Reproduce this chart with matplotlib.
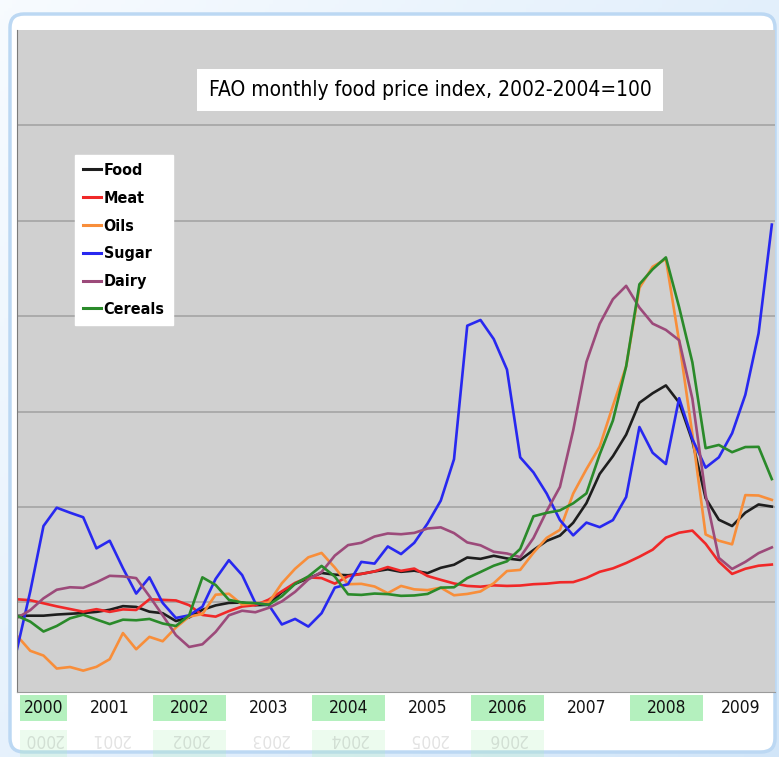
import numpy as np
import matplotlib
matplotlib.use('Agg')
import matplotlib.pyplot as plt
from matplotlib import font_manager as fm
from matplotlib.patches import FancyBboxPatch, Rectangle

# ---------------- data (FAO monthly food price index, 2002-2004=100) ----------------
start_year = 2000.33          # first sample (fractional year)
step_years = 1 / 6            # one sample every two months

food = [92.9, 93, 93, 93.6, 94, 94.4, 95, 96.1, 98, 97.6,
        95.1, 94.3, 90.2, 92.1, 96.1, 98.4, 99.7, 99.9, 98.5, 98.7,
        105.3, 109.7, 112.6, 115.4, 114.5, 114.2, 114.9, 116.2, 117.3, 116,
        116.6, 115.3, 118.1, 119.7, 123.5, 122.8, 124.4, 123, 122.2, 127.4,
        132.2, 135, 141.7, 152, 167.3, 176.6, 187.9, 204.6, 209.6, 213.7,
        204.7, 184.6, 154.6, 143.3, 140, 147, 151.3, 150.2]

meat = [101.6, 101.1, 99.5, 97.9, 96.5, 95.1, 96.4, 95, 96.3, 96,
        101.6, 101.3, 101, 98.5, 93.4, 92.5, 95.4, 97.8, 98.5, 101.4,
        105.8, 110.2, 113.1, 112.7, 109.8, 113.7, 114.9, 116.2, 118.5, 116.5,
        117.7, 113.8, 111.8, 109.9, 108.6, 108.2, 108.9, 108.6, 108.8, 109.5,
        109.8, 110.5, 110.6, 112.8, 116, 117.8, 120.6, 123.9, 127.6, 133.9,
        136.5, 137.6, 130.7, 121.3, 114.9, 117.6, 119.2, 119.8]

oils = [82.5, 74.6, 72.1, 65.3, 66.1, 64.2, 66.2, 70.2, 83.9, 75.4,
        81.9, 79.6, 86.8, 92.5, 93.9, 104, 104.5, 98.8, 99.6, 99.8,
        110, 117.6, 123.6, 125.9, 118.2, 109.5, 109.7, 108.3, 104.8, 108.6,
        106.8, 106.4, 107.7, 103.7, 104.4, 105.7, 110, 116.4, 117, 126,
        133.8, 138, 157, 169.8, 181.6, 203, 223.7, 264.8, 275.9, 280,
        236.8, 188.1, 135.6, 132.3, 130.4, 156.2, 156, 153.7]

sugar = [75.4, 105.7, 140, 149.6, 147, 144.6, 128.3, 132.3, 117.9, 104.6,
         113.1, 99.7, 91.8, 93.2, 97.7, 112.3, 122.1, 114.3, 99.6, 98.7,
         88.4, 91.3, 87.3, 94.3, 107.7, 109.5, 121.2, 120.3, 129.3, 125.3,
         131.2, 141.3, 153.3, 175, 245, 248, 238, 222, 176, 168.1,
         157, 143.1, 135.1, 141.8, 139.4, 143.1, 155.2, 191.9, 178.4, 172.5,
         207, 185.6, 170.6, 176, 188.6, 208.8, 241, 298]

dairy = [91.8, 95.9, 102.1, 106.6, 107.9, 107.6, 110.5, 113.9, 113.6, 112.7,
         103.2, 93.2, 82.8, 76.6, 78, 84.5, 93.2, 95.6, 94.8, 97.1,
         100.5, 105.5, 112, 115.9, 124.5, 130, 131.2, 134.5, 136.1, 135.7,
         136.4, 138.7, 139.3, 136.3, 131.4, 129.9, 126.5, 125.6, 123.7, 133.7,
         147.8, 160.5, 190.1, 226, 246, 258.9, 265.9, 254.5, 246.1, 242.8,
         237.4, 206.7, 156.3, 123.3, 117.5, 121.2, 125.8, 128.8]

cereals = [92.9, 89.9, 84.7, 87.6, 91.6, 93.5, 91, 88.6, 90.9, 90.6,
           91.3, 88.9, 87.6, 93.2, 113.1, 109.1, 101.3, 99.9, 99.6, 98.7,
           103.2, 109.7, 113.6, 119.1, 113.5, 104.2, 103.9, 104.6, 104.3, 103.4,
           103.6, 104.4, 107.7, 107.9, 112.7, 115.9, 119.2, 121.5, 128, 145.1,
           146.9, 148.2, 151.9, 157.1, 177.5, 195.3, 223.7, 266.7, 274.6, 280.8,
           254.7, 225.8, 180.8, 182.5, 178.7, 181.4, 181.5, 164.6]

series_names = ['Food', 'Meat', 'Oils', 'Sugar', 'Dairy', 'Cereals']
series_values = [food, meat, oils, sugar, dairy, cereals]
series_colors = ['#1e1e1e', '#f02828', '#f88e3a', '#2828f0', '#9c4a7a', '#2a8a2a']

years = list(range(2000, 2010))
grid_levels = [100, 150, 200, 250, 300, 350]
title = 'FAO monthly food price index, 2002-2004=100'

# ---------------- fonts ----------------
def condensed(weight='normal', size=12):
    for f in fm.fontManager.ttflist:
        n = f.fname.lower()
        if 'condensed' in n and 'dejavusans' in n.replace('-', '').replace('_', ''):
            if (weight == 'bold') == ('bold' in n) and 'oblique' not in n:
                return fm.FontProperties(fname=f.fname, size=size)
    return fm.FontProperties(family=['Liberation Sans Narrow', 'DejaVu Sans'],
                             weight=weight, stretch='condensed', size=size)

# ---------------- figure ----------------
W, H = 779, 757
fig = plt.figure(figsize=(W / 100, H / 100), dpi=100)

# background gradient
bg = fig.add_axes([0, 0, 1, 1])
bg.axis('off')
gx = np.linspace(0, 1, 200)
gy = np.linspace(0, 1, 200)
GX, GY = np.meshgrid(gx, gy)
t = np.clip(0.55 * GX + 0.45 * GY, 0, 1)
c0 = np.array([0.97, 0.985, 1.0])
c1 = np.array([0.82, 0.90, 0.975])
img = c0[None, None, :] * (1 - t[..., None]) + c1[None, None, :] * t[..., None]
bg.imshow(img, extent=[0, 1, 0, 1], aspect='auto', origin='upper')
bg.set_xlim(0, 1)
bg.set_ylim(0, 1)

# card
card = FancyBboxPatch((10 / W, (H - 752) / H), 765 / W, 738 / H,
                      boxstyle='round,pad=0,rounding_size=0.018',
                      transform=fig.transFigure, fc='white',
                      ec='#bcd8f3', lw=2.5, zorder=1)
bg.add_patch(card)

# main panel
L, R = 17, 775
TOP, BOT = 30, 692
ax = fig.add_axes([L / W, (H - BOT) / H, (R - L) / W, (BOT - TOP) / H])
ax.set_facecolor('#d0d0d0')
dates = start_year + step_years * np.arange(len(food))
for name, vals, col in zip(series_names, series_values, series_colors):
    ax.plot(dates, vals, color=col, lw=1.9, label=name, solid_joinstyle='round')
ax.set_xlim(2000.33, 2009.87)
ax.set_ylim(53, 400)
ax.set_yticks(grid_levels)
ax.yaxis.grid(True, color='#a8a8a8', lw=1.3)
ax.set_axisbelow(True)
ax.tick_params(left=False, bottom=False, labelleft=False, labelbottom=False)
ax.set_xticks([])
for s in ['top', 'right']:
    ax.spines[s].set_visible(False)
ax.spines['left'].set_color('#7a7a7a')
ax.spines['bottom'].set_color('#9a9a9a')

leg = ax.legend(loc='upper left', bbox_to_anchor=(75 / W, 1 - 155 / H),
                bbox_transform=fig.transFigure, frameon=True, fancybox=False,
                facecolor='white', edgecolor='white', framealpha=1,
                handlelength=1.1, handletextpad=0.2, labelspacing=0.8,
                borderpad=0.5, borderaxespad=0,
                prop=condensed('bold', 11.5))
for h in leg.get_lines():
    h.set_linewidth(2.2)

fig.text(430 / W, 1 - 90 / H, title, ha='center', va='center',
         fontproperties=condensed('normal', 15), color='black',
         bbox=dict(boxstyle='square,pad=0.55', fc='white', ec='none'))

# year strip
ay = fig.add_axes([L / W, (H - 722) / H, (R - L) / W, 28 / H])
ay.set_xlim(2000.33, 2009.87)
ay.set_ylim(0, 1)
ay.axis('off')
for y in years:
    x0 = max(y, 2000.33)
    x1 = min(y + 1, 2009.87)
    if y % 2 == 0:
        ay.add_patch(Rectangle((x0 + 0.04, 0.05), (x1 - x0) - 0.08, 0.9,
                               fc='#b4f0be', ec='none'))
    ay.text((x0 + x1) / 2, 0.5, str(y), ha='center', va='center',
            fontproperties=condensed('normal', 12.5), color='#111111')

# faded reflection of the year strip
ar = fig.add_axes([L / W, (H - 760) / H, (R - L) / W, 30 / H])
ar.set_xlim(2000.33, 2009.87)
ar.set_ylim(0, 1)
ar.axis('off')
for y in years[:7]:
    x0 = max(y, 2000.33)
    x1 = min(y + 1, 2009.87)
    if y % 2 == 0:
        ar.add_patch(Rectangle((x0 + 0.04, 0.1), (x1 - x0) - 0.08, 0.9,
                               fc='#b4f0be', ec='none', alpha=0.25))
    ar.text((x0 + x1) / 2, 0.7, str(y), ha='center', va='center',
            fontproperties=condensed('normal', 12.5), color='#111111',
            alpha=0.12, rotation=180)

fig.savefig('out.png', dpi=100, facecolor=fig.get_facecolor())
